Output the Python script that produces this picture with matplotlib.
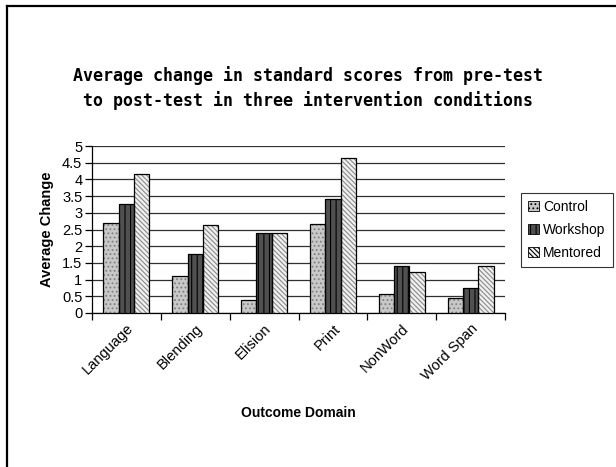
import matplotlib
matplotlib.use("Agg")
import matplotlib.pyplot as plt
import numpy as np
from matplotlib.patches import Patch
from matplotlib.lines import Line2D

categories = ["Language", "Blending", "Elision", "Print", "NonWord", "Word Span"]
control = [2.69, 1.12, 0.39, 2.66, 0.58, 0.46]
workshop = [3.27, 1.78, 2.40, 3.42, 1.42, 0.76]
mentored = [4.15, 2.63, 2.40, 4.64, 1.23, 1.42]
series_names = ["Control", "Workshop", "Mentored"]
yticks = [0, 0.5, 1, 1.5, 2, 2.5, 3, 3.5, 4, 4.5, 5]

plt.rcParams["font.family"] = ["Liberation Sans", "DejaVu Sans"]
plt.rcParams["hatch.linewidth"] = 0.8

W, H, DPI = 616, 467, 100
fig = plt.figure(figsize=(W / DPI, H / DPI), dpi=DPI)
ax = fig.add_axes([92 / W, 154 / H, 413 / W, 167 / H])

styles = [
    dict(face="#c8c8c8", hatch="....", hcol="#808080"),
    dict(face="#505050", hatch="|||", hcol="#000000"),
    dict(face="#f0f0f0", hatch="\\\\\\\\\\\\\\", hcol="#8a8a8a"),
]

x = np.arange(len(categories))
bw = 0.223
for i, (vals, st) in enumerate(zip([control, workshop, mentored], styles)):
    pos = x + (i - 1) * bw
    ax.bar(pos, vals, width=bw, color=st["face"], hatch=st["hatch"],
           edgecolor=st["hcol"], linewidth=0, zorder=3)
    ax.bar(pos, vals, width=bw, fill=False, edgecolor="black",
           linewidth=0.9, zorder=4)

ax.set_xlim(-0.5, len(categories) - 0.5)
ax.set_ylim(0, 5)
ax.set_yticks(yticks)
ax.set_yticklabels([f"{t:g}" for t in yticks], fontsize=10.5)
ax.yaxis.grid(True, color="#303030", linewidth=0.9, zorder=0)
ax.set_axisbelow(True)

ax.set_xticks(np.arange(len(categories) + 1) - 0.5)
ax.set_xticklabels([])
ax.set_xticks(x, minor=True)
ax.set_xticklabels(categories, minor=True, rotation=45, ha="right",
                   va="top", fontsize=10.5, rotation_mode="anchor")
ax.tick_params(axis="x", which="minor", length=0, pad=6)
ax.tick_params(axis="x", which="major", direction="out", length=5, width=0.9)
ax.tick_params(axis="y", direction="out", length=5, width=0.9, pad=2)

for s in ["top", "right"]:
    ax.spines[s].set_visible(False)
for s in ["left", "bottom"]:
    ax.spines[s].set_linewidth(0.9)

ax.set_ylabel("Average Change", fontsize=10.5, fontweight="bold", labelpad=6)
ax.set_xlabel("Outcome Domain", fontsize=10, fontweight="bold")
ax.xaxis.set_label_coords(0.5, -0.555)

fig.text(0.5, 1 - 88 / H,
         "Average change in standard scores from pre-test\nto post-test in three intervention conditions",
         ha="center", va="center", fontsize=12, fontweight="bold",
         family="DejaVu Sans Mono", linespacing=1.45)

handles = [Patch(facecolor=st["face"], hatch=st["hatch"], edgecolor="black",
                 linewidth=0.6) for st in styles]
leg = fig.legend(handles, series_names, loc="upper left",
                 bbox_to_anchor=(521 / W, 1 - 193 / H), fontsize=10,
                 frameon=True, fancybox=False, shadow=False,
                 handlelength=0.8, handleheight=0.8, handletextpad=0.3,
                 borderpad=0.5, labelspacing=0.65, borderaxespad=0)
leg.get_frame().set_edgecolor("black")
leg.get_frame().set_linewidth(0.8)

# outer chart frame (top and left edges)
fig.add_artist(Line2D([7 / W, 7 / W], [0, 1 - 6 / H], color="black",
                      linewidth=1.6, transform=fig.transFigure))
fig.add_artist(Line2D([7 / W, 1], [1 - 6 / H, 1 - 6 / H], color="black",
                      linewidth=1.6, transform=fig.transFigure))

fig.savefig("out.png", dpi=DPI)
